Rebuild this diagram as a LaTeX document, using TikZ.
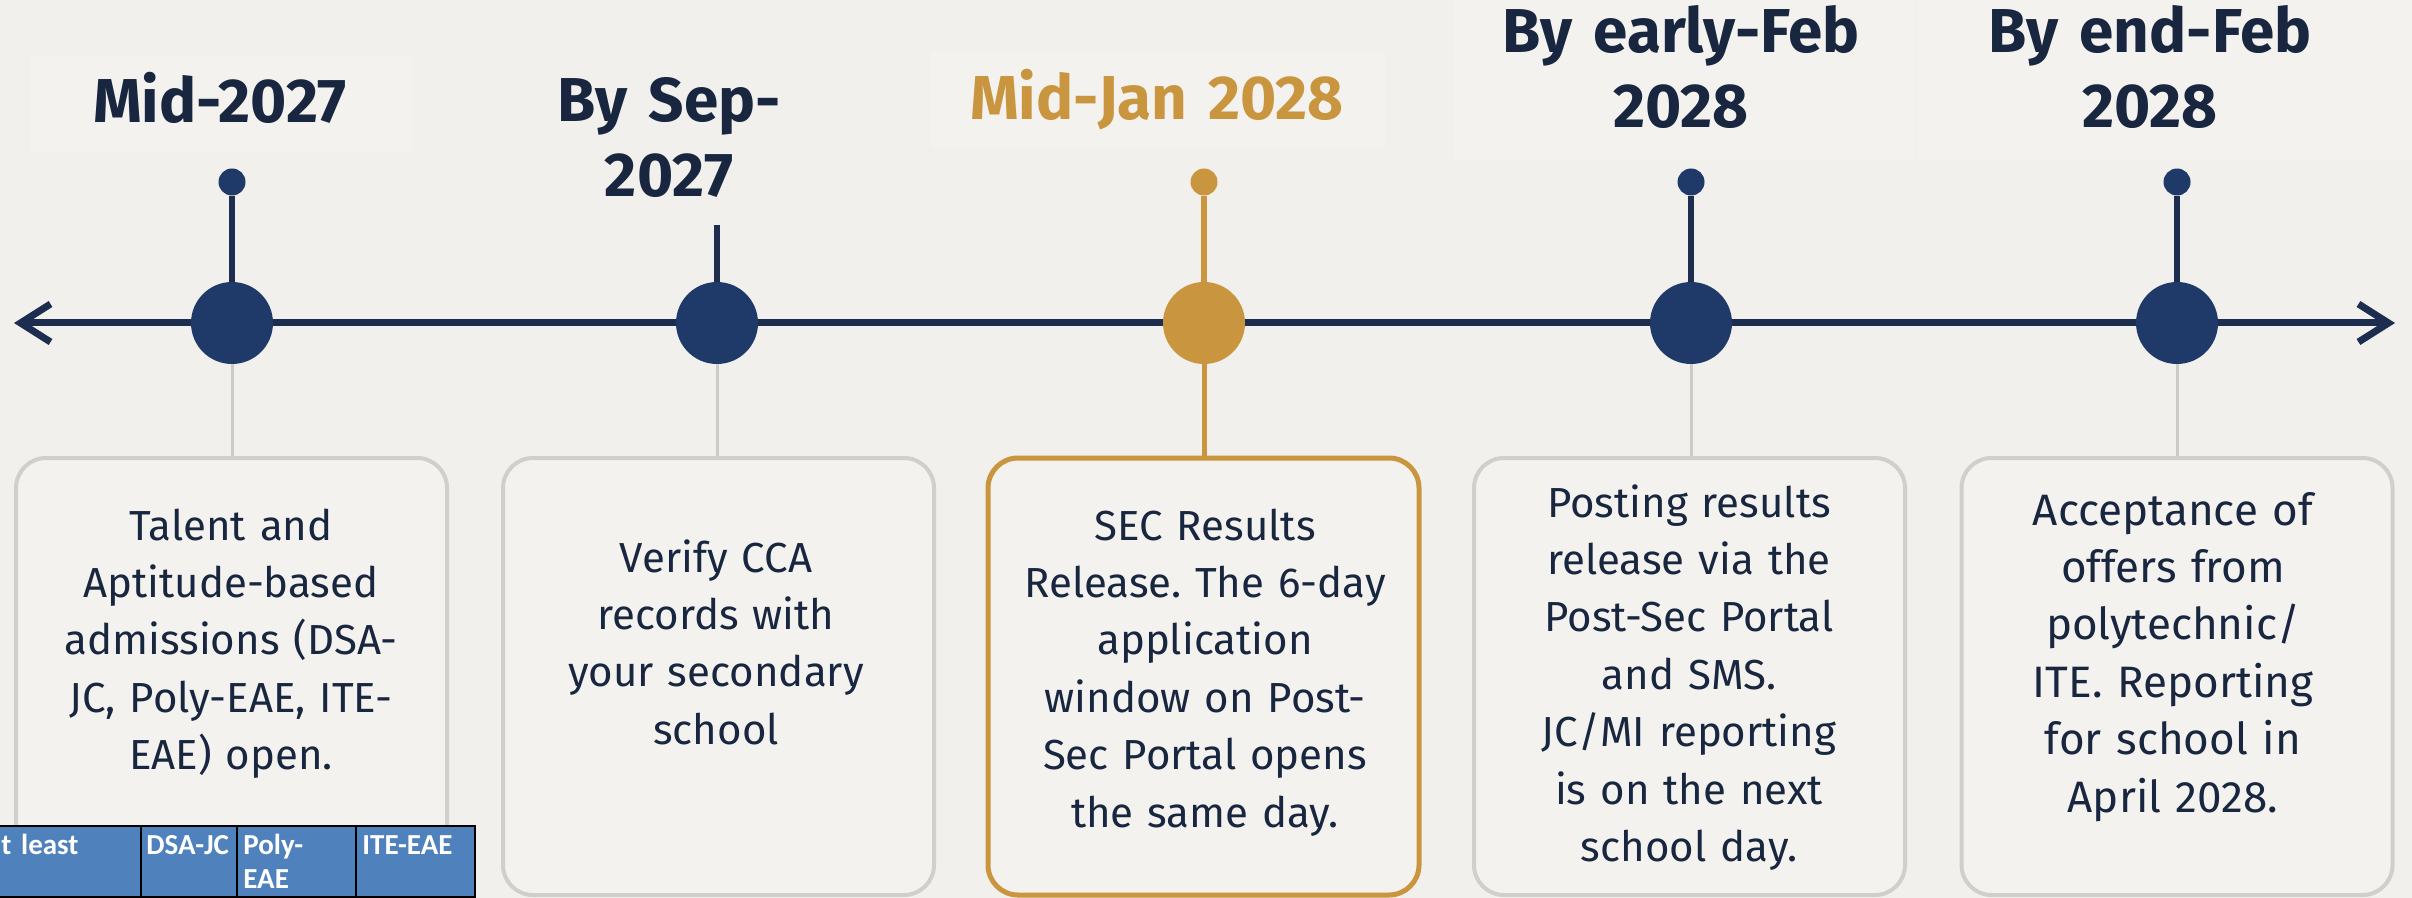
\documentclass[tikz,border=0pt]{standalone}
\usepackage{fontspec}
\setmainfont{Fira Sans}
\newfontfamily\titlefont{Fira Sans}
\newfontfamily\condfont{Fira Sans}
\newfontfamily\plainfont{Fira Sans}
\newfontfamily\tablefont{Carlito}
\frenchspacing
\usetikzlibrary{arrows.meta}
\definecolor{bgc}{HTML}{F1F0EC}
\definecolor{faint}{HTML}{F3F2EF}
\definecolor{navy}{HTML}{1F3A68}
\definecolor{navyline}{HTML}{1C2D4F}
\definecolor{ink}{HTML}{19263F}
\definecolor{gold}{HTML}{C9963F}
\definecolor{boxgray}{HTML}{CFCFCC}
\definecolor{stemgray}{HTML}{CBCBC8}
\definecolor{boxfill}{HTML}{F3F2EF}
\definecolor{tblue}{HTML}{4F81BD}
\tikzset{
  x=0.5pt, y=-0.5pt,
  titletext/.style={font=\titlefont\bfseries\fontsize{31}{37.5}\selectfont, text=ink, align=center, anchor=base, inner sep=0pt, text width=260pt},
  bodytext/.style={font=\condfont\fontsize{21}{28.7}\selectfont, text=ink, align=center, anchor=base, inner sep=0pt, text width=208pt},
  card/.style={draw=boxgray, line width=2pt, rounded corners=15pt, fill=boxfill, minimum width=215.5pt, minimum height=218.5pt, inner sep=0pt},
  goldcard/.style={card, draw=gold, line width=2.5pt},
  bigdot/.style={circle, fill=navy, minimum size=41pt, inner sep=0pt},
  smalldot/.style={circle, fill=navy, minimum size=13.5pt, inner sep=0pt},
  stemtop/.style={draw=navyline, line width=3pt},
  stemlow/.style={draw=stemgray, line width=1.5pt},
  timeline/.style={draw=navyline, line width=3.5pt, {Straight Barb[length=15pt,width=19pt]}-{Straight Barb[length=15pt,width=19pt]}},
  tcell/.style={fill=tblue, draw=black, line width=1.25pt},
  ttext/.style={font=\tablefont\bfseries\fontsize{14.5}{17}\selectfont, text=white, anchor=base west, inner sep=0pt, align=left, text width=60pt},
  faintbox/.style={fill=faint}
}
\begin{document}
\begin{tikzpicture}
\useasboundingbox (0,0) rectangle (2412,898);
\fill[bgc] (0,0) rectangle (2412,898);
% faint title panels
\fill[faintbox] (31,55) rectangle (412,152);
\fill[faintbox] (931,52) rectangle (1385,147);
\fill[faintbox] (1454,0) rectangle (1915,160);
\fill[faintbox] (1918,0) rectangle (2412,160);

% timeline
\coordinate (L) at (14,323);
\coordinate (R) at (2395,323);
\draw[timeline] (L) -- (R);

% cards
\node[card] (b1) at (231.5,676.5) {};
\node[card] (b2) at (718.5,676.5) {};
\node[goldcard] (b3) at (1203.5,676.5) {};
\node[card] (b4) at (1689.5,676.5) {};
\node[card] (b5) at (2177,676.5) {};

% events
\node[bigdot] (c1) at (232,323) {};
\node[bigdot] (c2) at (717,323) {};
\node[bigdot, fill=gold] (c3) at (1204,323) {};
\node[bigdot] (c4) at (1691,323) {};
\node[bigdot] (c5) at (2177,323) {};

\node[smalldot] (d1) at (232,182) {};
\coordinate (d2) at (717,225);
\node[smalldot, fill=gold] (d3) at (1204,182) {};
\node[smalldot] (d4) at (1691,182) {};
\node[smalldot] (d5) at (2177,182) {};

\draw[stemtop] (d1) -- (c1);
\draw[stemtop] (d2) -- (c2);
\draw[stemtop, draw=gold] (d3) -- (c3);
\draw[stemtop] (d4) -- (c4);
\draw[stemtop] (d5) -- (c5);

\draw[stemlow] (c1) -- (c1 |- b1.north);
\draw[stemlow] (c2) -- (c2 |- b2.north);
\draw[stemlow, draw=gold, line width=2.5pt] (c3) -- (c3 |- b3.north);
\draw[stemlow] (c4) -- (c4 |- b4.north);
\draw[stemlow] (c5) -- (c5 |- b5.north);

% titles
\node[titletext] (t1) at (220,123) {Mid-2027};
\node[titletext] (t2) at (669,122) {By Sep-\\2027};
\node[titletext, text=gold] (t3) at (1157,120) {Mid-Jan 2028};
\node[titletext] (t4) at (1681,53) {By early-Feb\\2028};
\node[titletext] (t5) at (2150,53) {By end-Feb\\2028};

% card texts
\node[bodytext] (x1) at (231,540) {Talent and\\Aptitude-based\\admissions (DSA-\\JC, Poly-EAE, ITE-\\EAE) open.};
\node[bodytext] (x2) at (716,572) {Verify CCA\\records with\\your secondary\\school};
\node[bodytext] (x3) at (1205,540) {SEC Results\\Release. The 6-day\\application\\window on Post-\\Sec Portal opens\\the same day.};
\node[bodytext] (x4) at (1689,517) {Posting results\\release via the\\Post-Sec Portal\\and SMS.\\JC/MI reporting\\is on the next\\school day.};
\node[bodytext, font=\plainfont\fontsize{22}{28.7}\selectfont] (x5) at (2173,525) {Acceptance of\\offers from\\polytechnic/\\ITE. Reporting\\for school in\\April 2028.};

% table fragment
\path[tcell] (-5,826) rectangle (141,897);
\path[tcell] (141,826) rectangle (237,897);
\path[tcell] (237,826) rectangle (356,897);
\path[tcell] (356,826) rectangle (475,897);
\node[ttext] (q1) at (1,854) {t least};
\node[ttext] (q2) at (146,854) {DSA-JC};
\node[ttext] (q3) at (243,854) {Poly-\\EAE};
\node[ttext] (q4) at (362,854) {ITE-EAE};
\end{tikzpicture}
\end{document}
